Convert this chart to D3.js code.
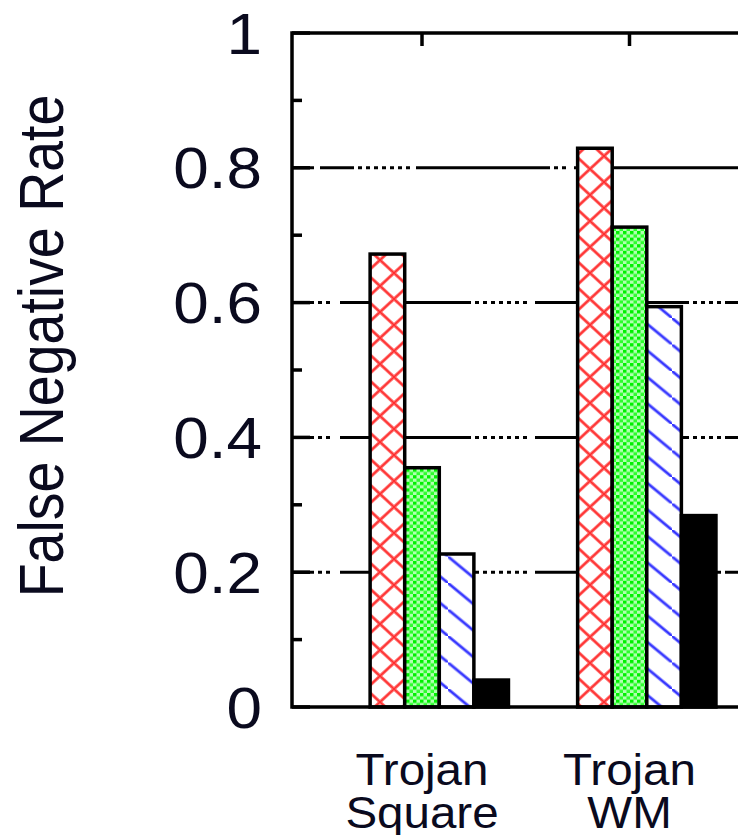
<!DOCTYPE html>
<html>
<head>
<meta charset="utf-8">
<script src="https://cdn.jsdelivr.net/npm/d3@7"></script>
<style>
  html, body { margin: 0; padding: 0; background: #fff; overflow: hidden; }
  svg { display: block; }
</style>
</head>
<body>
<svg id="chart" width="738" height="835"></svg>
<script>
// ── data ──
const groupLabels = [['Trojan', 'Square'], ['Trojan', 'WM']];
const seriesA = [0.672, 0.829];   // red crosshatch
const seriesB = [0.355, 0.712];   // green checker
const seriesC = [0.227, 0.594];   // blue diagonal
const seriesD = [0.040, 0.284];   // solid black
const yTicks  = [0, 0.2, 0.4, 0.6, 0.8, 1];
const yTickLabels = ['0', '0.2', '0.4', '0.6', '0.8', '1'];
const yMinor  = [0.1, 0.3, 0.5, 0.7, 0.9];

const W = 738, H = 835;
const FONT = 'Liberation Sans, Arial, Helvetica, sans-serif';
const svg = d3.select('#chart');

// group index → pixel (tick sits on the 2nd bar of each cluster)
const x = d3.scaleLinear([0, 1], [422, 629.5]);
const y = d3.scaleLinear([0, 1], [707, 33]);
const bw = (x(1) - x(0)) / 6;
const left = 292, right = W + 10;

// ── patterns ──
const defs = svg.append('defs');

const rw = 28, rh = 26;
const pRed = defs.append('pattern').attr('id', 'pRed')
  .attr('patternUnits', 'userSpaceOnUse').attr('width', rw).attr('height', rh)
  .attr('x', 576);
pRed.append('rect').attr('width', rw).attr('height', rh).attr('fill', '#fff');
pRed.append('path')
  .attr('d', `M0,0L${rw},${rh}M${rw},0L0,${rh}M-3,${rh - 3}L3,${rh + 3}M${rw - 3},-3L${rw + 3},3M${rw - 3},${rh + 3}L${rw + 3},${rh - 3}M-3,3L3,-3`)
  .attr('stroke', '#ff6a6a').attr('stroke-width', 3.2).attr('fill', 'none');
pRed.append('path')
  .attr('d', `M0,0L${rw},${rh}M${rw},0L0,${rh}`)
  .attr('stroke', '#ff2a2a').attr('stroke-width', 1.2).attr('fill', 'none');

const pGreen = defs.append('pattern').attr('id', 'pGreen')
  .attr('patternUnits', 'userSpaceOnUse').attr('width', 7).attr('height', 6.6);
pGreen.append('rect').attr('width', 7).attr('height', 6.6).attr('fill', '#b2ffb2');
pGreen.append('rect').attr('width', 3.5).attr('height', 3.3).attr('fill', '#00f000');
pGreen.append('rect').attr('x', 3.5).attr('y', 3.3).attr('width', 3.5).attr('height', 3.3).attr('fill', '#2cff2c');

const pBlue = defs.append('pattern').attr('id', 'pBlue')
  .attr('patternUnits', 'userSpaceOnUse').attr('width', 32).attr('height', 26.5);
pBlue.append('rect').attr('width', 32).attr('height', 26.5).attr('fill', '#fff');
pBlue.append('path')
  .attr('d', 'M0,0L32,26.5M-3,-2.5L3,2.5M29,24L35,29')
  .attr('stroke', '#8080ff').attr('stroke-width', 3.4).attr('fill', 'none');
pBlue.append('path')
  .attr('d', 'M0,0L32,26.5M-3,-2.5L3,2.5M29,24L35,29')
  .attr('stroke', '#2a2aff').attr('stroke-width', 1.4).attr('fill', 'none');

// ── grid (gnuplot dotted grid, as it looks after rescaling) ──
function dashes(segs) {
  const out = [];
  segs.forEach(([k, len]) => {
    if (k === 's') { out.push(len, 0); }
    else { const n = Math.floor(len / 8); for (let i = 0; i < n; i++) out.push(4, 4); out.push(0, len - n * 8); }
  });
  return out.join(' ');
}
const gridStyle = dashes([['s', 18], ['d', 30], ['s', 127], ['d', 68], ['s', 150], ['d', 40], ['s', 200]]);
const gridStyleTop = dashes([['s', 18], ['d', 10], ['s', 30], ['d', 66], ['s', 130], ['d', 28], ['s', 300]]);

svg.append('g').selectAll('line')
  .data(yTicks.filter(v => v > 0 && v < 1))
  .join('line')
  .attr('x1', left).attr('x2', right)
  .attr('y1', d => y(d)).attr('y2', d => y(d))
  .attr('stroke', '#000').attr('stroke-width', 3)
  .attr('stroke-dasharray', d => d === 0.8 ? gridStyleTop : gridStyle);

// ── bars ──
const series = [
  { values: seriesA, fill: 'url(#pRed)' },
  { values: seriesB, fill: 'url(#pGreen)' },
  { values: seriesC, fill: 'url(#pBlue)' },
  { values: seriesD, fill: '#000' },
];
const gBars = svg.append('g');
series.forEach((s, si) => {
  gBars.selectAll(null)
    .data(s.values)
    .join('rect')
    .attr('x', (d, gi) => x(gi) + (si - 1) * bw - bw / 2)
    .attr('y', d => y(d))
    .attr('width', bw)
    .attr('height', d => y(0) - y(d))
    .attr('fill', s.fill)
    .attr('stroke', '#000').attr('stroke-width', 3.5);
});

// ── axes frame ──
const gAx = svg.append('g').attr('stroke', '#000').attr('stroke-width', 3.5).attr('fill', 'none');
gAx.append('path').attr('d', `M${right},${y(1)}H${left}V${y(0)}H${right}`).attr('stroke-linecap', 'square');

// y ticks
gAx.selectAll('.maj').data(yTicks).join('line')
  .attr('x1', left).attr('x2', left + 18).attr('y1', d => y(d)).attr('y2', d => y(d));
gAx.selectAll('.min').data(yMinor).join('line')
  .attr('x1', left).attr('x2', left + 10).attr('y1', d => y(d)).attr('y2', d => y(d));
// top ticks at cluster positions
gAx.selectAll('.top').data(groupLabels).join('line')
  .attr('x1', (d, i) => x(i)).attr('x2', (d, i) => x(i))
  .attr('y1', y(1)).attr('y2', y(1) + 13);

// ── y tick labels ──
svg.append('g').selectAll('text')
  .data(yTicks)
  .join('text')
  .attr('transform', d => `translate(262,${y(d)}) scale(1.12,1)`)
  .attr('text-anchor', 'end')
  .attr('dy', '0.36em')
  .attr('font-family', FONT).attr('font-size', 57).attr('fill', '#0a0a1e')
  .text((d, i) => yTickLabels[i]);

// ── x labels ──
const gx = svg.append('g');
groupLabels.forEach((lines, i) => {
  lines.forEach((t, li) => {
    gx.append('text')
      .attr('transform', `translate(${x(i)},${785 + li * 43}) scale(1.08,1)`)
      .attr('text-anchor', 'middle')
      .attr('font-family', FONT).attr('font-size', 44).attr('fill', '#0a0a1e')
      .text(t);
  });
});

// ── y axis title ──
svg.append('text')
  .attr('transform', 'translate(63,346) scale(1.12,1) rotate(-90)')
  .attr('text-anchor', 'middle')
  .attr('font-family', FONT).attr('font-size', 55.5).attr('fill', '#0a0a1e')
  .text('False Negative Rate');
</script>
</body>
</html>
